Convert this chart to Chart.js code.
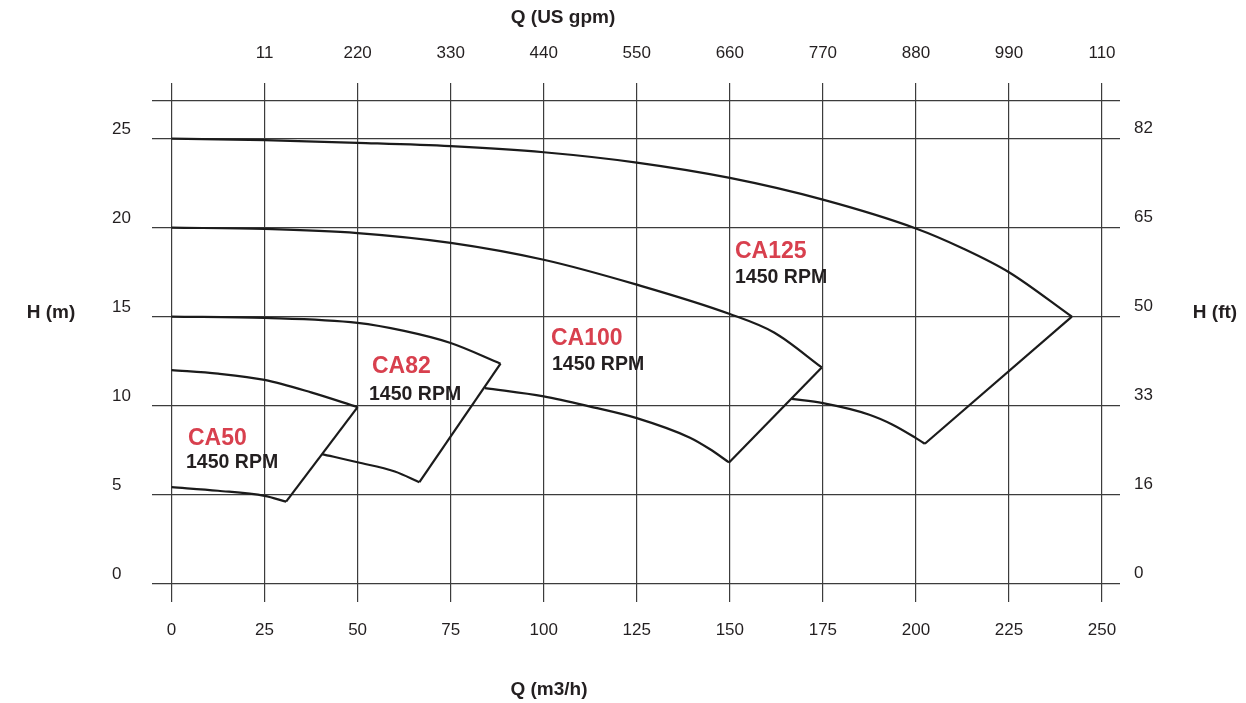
<!DOCTYPE html>
<html lang="en">
<head>
<meta charset="UTF-8">
<title>CA pump curves 1450 RPM</title>
<script src="https://cdn.jsdelivr.net/npm/chart.js@4/dist/chart.umd.min.js"></script>
<style>
    html, body {
        margin: 0;
        padding: 0;
        background: #fff;
    }
    #wrap {
        width: 1246px;
        height: 703px;
    }
</style>
</head>
<body>
<div id="wrap"><canvas id="pumpChart" width="1246" height="703"></canvas></div>
<script>
// axis ticks
const flowTicks = [0, 25, 50, 75, 100, 125, 150, 175, 200, 225, 250];
const gpmLabels = ['', '11', '220', '330', '440', '550', '660', '770', '880', '990', '110'];
const headTicks = [0, 5, 10, 15, 20, 25];
const feetLabels = ['0', '16', '33', '50', '65', '82'];
const headTop = 27.13; // frame line above the 25 m line

// pump curves, Q in m3/h, H in m (max and min impeller)
const ca50MaxQ = [0, 12.5, 25, 37.5, 50];
const ca50MaxH = [12.0, 11.8, 11.45, 10.75, 9.92];
const ca50MinQ = [0, 12.5, 25, 30.8];
const ca50MinH = [5.42, 5.22, 4.93, 4.61];

const ca82MaxQ = [0, 25, 50, 62.5, 75, 88.4];
const ca82MaxH = [15.0, 14.93, 14.65, 14.2, 13.52, 12.36];
const ca82MinQ = [40.4, 50, 60, 66.6];
const ca82MinH = [7.28, 6.82, 6.3, 5.7];

const ca100MaxQ = [0, 25, 50, 75, 100, 125, 150, 162, 174.7];
const ca100MaxH = [20.0, 19.93, 19.7, 19.15, 18.2, 16.8, 15.15, 14.1, 12.15];
const ca100MinQ = [84.2, 100, 112.5, 125, 139.3, 144.7, 149.8];
const ca100MinH = [10.99, 10.52, 9.95, 9.3, 8.2, 7.55, 6.81];

const ca125MaxQ = [0, 25, 50, 75, 100, 125, 150, 175, 200, 212.5, 225, 241.9];
const ca125MaxH = [25.0, 24.92, 24.77, 24.58, 24.24, 23.66, 22.8, 21.58, 19.96, 18.85, 17.5, 15.0];
const ca125MinQ = [166.6, 175, 187.5, 193.75, 200, 202.4];
const ca125MinH = [10.38, 10.14, 9.49, 8.93, 8.18, 7.86];

const pumpNames = ['CA50', 'CA82', 'CA100', 'CA125'];
const pumpSpeed = '1450 RPM';

// look
const FONT = "'Liberation Sans', Arial, Helvetica, sans-serif";
const INK = '#231f20';
const GRID = '#3c3c3c';
const RED = '#d8404e';
const LINE = '#1b1b1b';

// label spots in pixels: name x, name y, rpm x, rpm y
const labelSpots = [
    [188, 439, 186, 463],
    [372, 367, 369, 395],
    [551, 339, 552, 365],
    [735, 252, 735, 278]
];

Chart.defaults.font.family = FONT;
Chart.defaults.color = INK;

function pts(qs, hs) {
    return qs.map((q, i) => ({ x: q, y: hs[i] }));
}

// curved part of a pump
function curve(qs, hs) {
    return { data: pts(qs, hs), cubicInterpolationMode: 'monotone' };
}

// straight edge between the end of the max and min impeller curves
function edge(maxQ, maxH, minQ, minH) {
    const a = maxQ.length - 1, b = minQ.length - 1;
    return { data: [{ x: maxQ[a], y: maxH[a] }, { x: minQ[b], y: minH[b] }] };
}

const datasets = [
    curve(ca50MaxQ, ca50MaxH), edge(ca50MaxQ, ca50MaxH, ca50MinQ, ca50MinH), curve(ca50MinQ, ca50MinH),
    curve(ca82MaxQ, ca82MaxH), edge(ca82MaxQ, ca82MaxH, ca82MinQ, ca82MinH), curve(ca82MinQ, ca82MinH),
    curve(ca100MaxQ, ca100MaxH), edge(ca100MaxQ, ca100MaxH, ca100MinQ, ca100MinH), curve(ca100MinQ, ca100MinH),
    curve(ca125MaxQ, ca125MaxH), edge(ca125MaxQ, ca125MaxH, ca125MinQ, ca125MinH), curve(ca125MinQ, ca125MinH)
].map(d => Object.assign({
    showLine: true,
    borderColor: LINE,
    borderWidth: 2.2,
    pointRadius: 0,
    fill: false
}, d));

const setTicks = list => scale => {
    scale.ticks = list.map(v => ({ value: v }));
};

const qMin = -5.24, qMax = 254.83;
const hMin = -1.03, hMax = 28.13;

// axis titles and pump names
const textPlugin = {
    id: 'pumpText',
    afterDraw(chart) {
        const ctx = chart.ctx;
        ctx.save();
        ctx.textBaseline = 'middle';
        ctx.fillStyle = INK;
        ctx.font = 'bold 19px ' + FONT;
        ctx.textAlign = 'center';
        ctx.fillText('Q (US gpm)', 563, 18);
        ctx.fillText('Q (m3/h)', 549, 690);
        ctx.fillText('H (m)', 51, 313);
        ctx.fillText('H (ft)', 1215, 313);

        ctx.textAlign = 'left';
        labelSpots.forEach((p, i) => {
            ctx.font = 'bold 23px ' + FONT;
            ctx.fillStyle = RED;
            ctx.fillText(pumpNames[i], p[0], p[1]);
            ctx.font = 'bold 19.5px ' + FONT;
            ctx.fillStyle = INK;
            ctx.fillText(pumpSpeed, p[2], p[3]);
        });
        ctx.restore();
    }
};

new Chart(document.getElementById('pumpChart'), {
    type: 'scatter',
    data: { datasets },
    options: {
        responsive: false,
        animation: false,
        layout: { padding: { left: 112, right: 66, top: 0, bottom: 0 } },
        plugins: {
            legend: { display: false },
            tooltip: { enabled: false }
        },
        scales: {
            x: {
                type: 'linear',
                position: 'bottom',
                min: qMin,
                max: qMax,
                afterBuildTicks: setTicks(flowTicks),
                afterFit: s => { s.height = 101; },
                grid: { color: GRID, lineWidth: 1.2, drawTicks: false },
                border: { display: false },
                ticks: {
                    padding: 18,
                    color: INK,
                    font: { size: 17 },
                    maxRotation: 0,
                    autoSkip: false,
                    callback: v => String(v)
                }
            },
            x2: {
                type: 'linear',
                position: 'top',
                min: qMin,
                max: qMax,
                afterBuildTicks: setTicks(flowTicks),
                afterFit: s => { s.height = 83; },
                grid: { display: false, drawTicks: false },
                border: { display: false },
                ticks: {
                    padding: 19,
                    color: INK,
                    font: { size: 17 },
                    maxRotation: 0,
                    autoSkip: false,
                    callback: v => gpmLabels[flowTicks.indexOf(v)] || ''
                }
            },
            y: {
                type: 'linear',
                position: 'left',
                min: hMin,
                max: hMax,
                afterBuildTicks: setTicks(headTicks.concat([headTop])),
                afterFit: s => { s.width = 40; },
                grid: { color: GRID, lineWidth: 1.2, drawTicks: false },
                border: { display: false },
                ticks: {
                    crossAlign: 'far',
                    padding: 0,
                    labelOffset: -9,
                    color: INK,
                    font: { size: 17 },
                    autoSkip: false,
                    callback: v => headTicks.includes(v) ? String(v) : ''
                }
            },
            y2: {
                type: 'linear',
                position: 'right',
                min: hMin,
                max: hMax,
                afterBuildTicks: setTicks(headTicks),
                afterFit: s => { s.width = 60; },
                grid: { display: false, drawTicks: false },
                border: { display: false },
                ticks: {
                    padding: 14,
                    labelOffset: -10,
                    color: INK,
                    font: { size: 17 },
                    autoSkip: false,
                    callback: v => feetLabels[headTicks.indexOf(v)]
                }
            }
        }
    },
    plugins: [textPlugin]
});
</script>
</body>
</html>
